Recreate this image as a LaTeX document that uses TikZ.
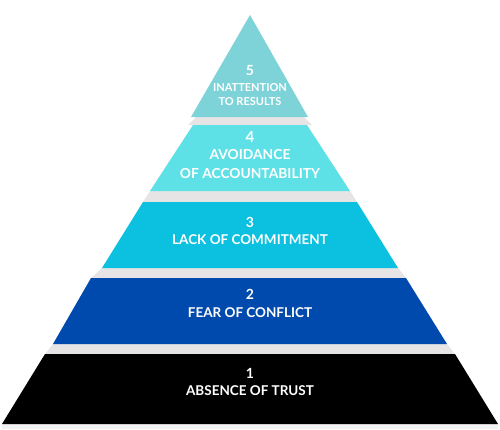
\documentclass[tikz,border=0pt]{standalone}
\usepackage{fontspec}
\setmainfont{Lato}
\usepackage{xcolor}
\usepackage{tikz}
\definecolor{lvlfive}{HTML}{7ED3D8}
\definecolor{lvlfour}{HTML}{5DE0E6}
\definecolor{lvlthree}{HTML}{0CC0DF}
\definecolor{lvltwo}{HTML}{004AAD}
\definecolor{lvlone}{HTML}{000000}
\definecolor{gapgray}{HTML}{E6E4E4}
\tikzset{
  layer/.style={draw=none},
  gap/.style={fill=gapgray,draw=none},
  lbl/.style={text=white,font=\bfseries\fontsize{#1}{#1}\selectfont,align=center,inner sep=0pt},
}
\begin{document}
\begin{tikzpicture}[x=1pt,y=-1pt]
  \useasboundingbox (0,0) rectangle (500,429);
  % shadows between the layers
  \fill[gap] (196,117) -- (304,117) -- (312,125) -- (188,125) -- cycle;
  \fill[gap] (150,191) -- (350,191) -- (357,202) -- (143,202) -- cycle;
  \fill[gap] (102,268) -- (398,268) -- (406,278) -- (91,278) -- cycle;
  \fill[gap] (53,344) -- (447,344) -- (455,354) -- (45,354) -- cycle;
  \fill[gap,fill=gapgray!50] (2,424) rectangle (498,429);
  % layers
  \fill[layer,lvlfive] (250,15) -- (308,117) -- (191,117) -- cycle;
  \fill[layer,lvlfour] (193,125) -- (307,125) -- (350,191) -- (150,191) -- cycle;
  \fill[layer,lvlthree] (143,202) -- (357,202) -- (398,268) -- (102,268) -- cycle;
  \fill[layer,lvltwo] (91,278) -- (406,278) -- (447,344) -- (53,344) -- cycle;
  \fill[layer,lvlone] (45,354) -- (455,354) -- (498,424) -- (2,424) -- cycle;
  % labels
  \node[lbl=14] (n5) at (250,70) {5};
  \node[lbl=11] (t5) at (250,95) {INATTENTION\\[3pt]TO RESULTS};
  \node[lbl=15] (n4) at (250,137) {4};
  \node[lbl=13.8] (t4) at (250,164) {AVOIDANCE\\[4.5pt]OF ACCOUNTABILITY};
  \node[lbl=14] (n3) at (250,222) {3};
  \node[lbl=13.5] (t3) at (250,240) {LACK OF COMMITMENT};
  \node[lbl=14] (n2) at (250,294) {2};
  \node[lbl=13.5] (t2) at (250,313) {FEAR OF CONFLICT};
  \node[lbl=14] (n1) at (250,373) {1};
  \node[lbl=13.5] (t1) at (250,391) {ABSENCE OF TRUST};
\end{tikzpicture}
\end{document}
